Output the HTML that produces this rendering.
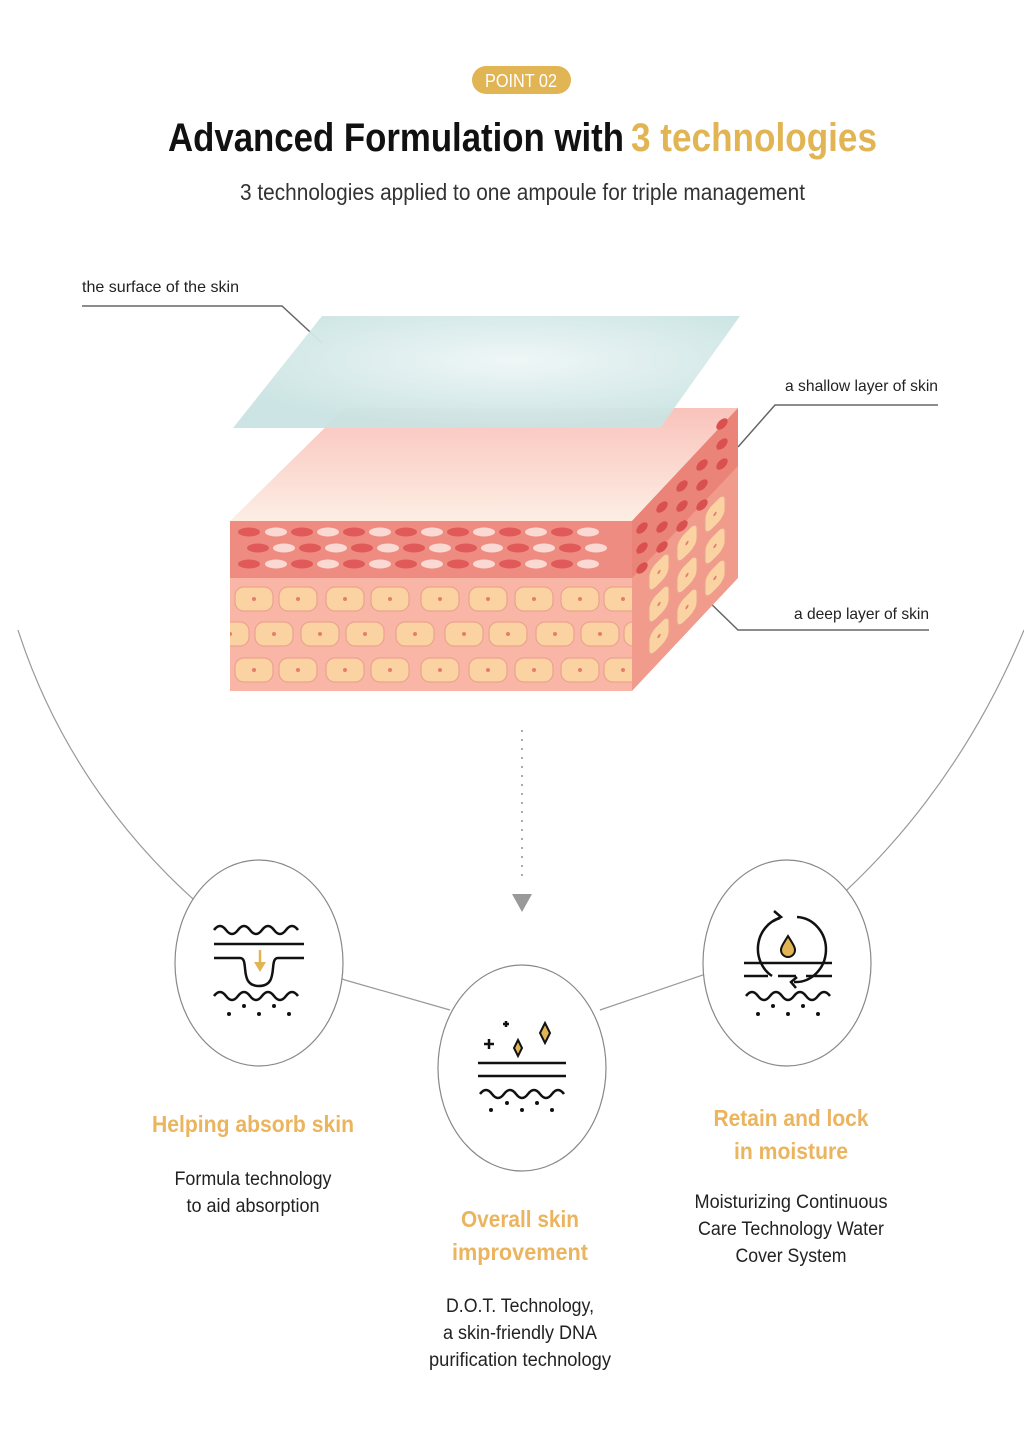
<!DOCTYPE html>
<html><head><meta charset="utf-8"><style>
html,body{margin:0;padding:0;background:#fff}
svg{display:block}
text{font-family:"Liberation Sans",sans-serif}
</style></head><body>
<svg width="1024" height="1451" viewBox="0 0 1024 1451" xmlns="http://www.w3.org/2000/svg">
<defs>
<linearGradient id="top" x1="0" y1="0" x2="0" y2="1"><stop offset="0" stop-color="#f9c3bb"/><stop offset="1" stop-color="#fdeee4"/></linearGradient>
<radialGradient id="mem" cx="0.55" cy="0.4" r="0.6"><stop offset="0" stop-color="#eef6f6"/><stop offset="1" stop-color="#c9e3e2"/></radialGradient>
<g id="cell"><rect x="-19" y="-12" width="38" height="24" rx="9" fill="#fbd3a3" stroke="#eaa48d" stroke-width="1.2"/><circle r="2" fill="#e47d6e"/></g>
<g id="scell"><rect x="-10" y="-12" width="20" height="24" rx="7" fill="#fbd3a3" stroke="#eaa48d" stroke-width="1"/><circle r="1.6" fill="#e47d6e"/></g>
<clipPath id="front"><rect x="230" y="521" width="402" height="170"/></clipPath>
</defs>

<rect x="472" y="66" width="99" height="28" rx="14" fill="#e1b454"/>
<text x="521" y="87" font-size="18" fill="#fff" text-anchor="middle" textLength="72" lengthAdjust="spacingAndGlyphs">POINT 02</text>
<text x="168" y="151" font-size="40" font-weight="bold" fill="#111" textLength="456" lengthAdjust="spacingAndGlyphs">Advanced Formulation with</text>
<text x="631" y="151" font-size="40" font-weight="bold" fill="#e1b454" textLength="246" lengthAdjust="spacingAndGlyphs">3 technologies</text>
<text x="240" y="200" font-size="23" fill="#333" textLength="565" lengthAdjust="spacingAndGlyphs">3 technologies applied to one ampoule for triple management</text>

<text x="82" y="292" font-size="16" fill="#222" textLength="157" lengthAdjust="spacingAndGlyphs">the surface of the skin</text>
<polyline points="82,306 282,306 322,343" fill="none" stroke="#666" stroke-width="1.5"/>
<text x="785" y="391" font-size="16" fill="#222" textLength="153" lengthAdjust="spacingAndGlyphs">a shallow layer of skin</text>
<polyline points="938,405 775,405 738,447" fill="none" stroke="#666" stroke-width="1.5"/>
<text x="794" y="619" font-size="16" fill="#222" textLength="135" lengthAdjust="spacingAndGlyphs">a deep layer of skin</text>
<polyline points="929,630 738,630 703,596" fill="none" stroke="#666" stroke-width="1.5"/>

<polygon points="230,521 345,408 738,408 632,521" fill="url(#top)"/>
<rect x="230" y="521" width="402" height="57" fill="#ee8c82"/>
<rect x="230" y="578" width="402" height="113" fill="#f9b5a5"/>
<polygon points="632,521 738,408 738,578 632,691" fill="#f09b8c"/>
<polygon points="632,521 738,408 738,466 632,578" fill="#ea8479"/>
<g fill="#e05a5a">
<ellipse cx="249" cy="532" rx="11" ry="4.5"/><ellipse cx="302" cy="532" rx="11" ry="4.5"/><ellipse cx="354" cy="532" rx="11" ry="4.5"/><ellipse cx="406" cy="532" rx="11" ry="4.5"/><ellipse cx="458" cy="532" rx="11" ry="4.5"/><ellipse cx="510" cy="532" rx="11" ry="4.5"/><ellipse cx="562" cy="532" rx="11" ry="4.5"/>
<ellipse cx="258" cy="548" rx="11" ry="4.5"/><ellipse cx="310" cy="548" rx="11" ry="4.5"/><ellipse cx="362" cy="548" rx="11" ry="4.5"/><ellipse cx="414" cy="548" rx="11" ry="4.5"/><ellipse cx="466" cy="548" rx="11" ry="4.5"/><ellipse cx="518" cy="548" rx="11" ry="4.5"/><ellipse cx="570" cy="548" rx="11" ry="4.5"/>
<ellipse cx="249" cy="564" rx="11" ry="4.5"/><ellipse cx="302" cy="564" rx="11" ry="4.5"/><ellipse cx="354" cy="564" rx="11" ry="4.5"/><ellipse cx="406" cy="564" rx="11" ry="4.5"/><ellipse cx="458" cy="564" rx="11" ry="4.5"/><ellipse cx="510" cy="564" rx="11" ry="4.5"/><ellipse cx="562" cy="564" rx="11" ry="4.5"/>
</g>
<g fill="#fbd9d3">
<ellipse cx="276" cy="532" rx="11" ry="4.5"/><ellipse cx="328" cy="532" rx="11" ry="4.5"/><ellipse cx="380" cy="532" rx="11" ry="4.5"/><ellipse cx="432" cy="532" rx="11" ry="4.5"/><ellipse cx="484" cy="532" rx="11" ry="4.5"/><ellipse cx="536" cy="532" rx="11" ry="4.5"/><ellipse cx="588" cy="532" rx="11" ry="4.5"/>
<ellipse cx="284" cy="548" rx="11" ry="4.5"/><ellipse cx="336" cy="548" rx="11" ry="4.5"/><ellipse cx="388" cy="548" rx="11" ry="4.5"/><ellipse cx="440" cy="548" rx="11" ry="4.5"/><ellipse cx="492" cy="548" rx="11" ry="4.5"/><ellipse cx="544" cy="548" rx="11" ry="4.5"/><ellipse cx="596" cy="548" rx="11" ry="4.5"/>
<ellipse cx="276" cy="564" rx="11" ry="4.5"/><ellipse cx="328" cy="564" rx="11" ry="4.5"/><ellipse cx="380" cy="564" rx="11" ry="4.5"/><ellipse cx="432" cy="564" rx="11" ry="4.5"/><ellipse cx="484" cy="564" rx="11" ry="4.5"/><ellipse cx="536" cy="564" rx="11" ry="4.5"/><ellipse cx="588" cy="564" rx="11" ry="4.5"/>
</g>
<g fill="#d9504f">
<ellipse cx="642" cy="528" rx="7" ry="4" transform="rotate(-45 642 528)"/><ellipse cx="662" cy="507" rx="7" ry="4" transform="rotate(-45 662 507)"/><ellipse cx="682" cy="486" rx="7" ry="4" transform="rotate(-45 682 486)"/><ellipse cx="702" cy="465" rx="7" ry="4" transform="rotate(-45 702 465)"/><ellipse cx="722" cy="444" rx="7" ry="4" transform="rotate(-45 722 444)"/>
<ellipse cx="642" cy="548" rx="7" ry="4" transform="rotate(-45 642 548)"/><ellipse cx="662" cy="527" rx="7" ry="4" transform="rotate(-45 662 527)"/><ellipse cx="682" cy="506" rx="7" ry="4" transform="rotate(-45 682 506)"/><ellipse cx="702" cy="485" rx="7" ry="4" transform="rotate(-45 702 485)"/><ellipse cx="722" cy="464" rx="7" ry="4" transform="rotate(-45 722 464)"/>
<ellipse cx="642" cy="568" rx="7" ry="4" transform="rotate(-45 642 568)"/><ellipse cx="662" cy="547" rx="7" ry="4" transform="rotate(-45 662 547)"/><ellipse cx="682" cy="526" rx="7" ry="4" transform="rotate(-45 682 526)"/><ellipse cx="702" cy="505" rx="7" ry="4" transform="rotate(-45 702 505)"/><ellipse cx="722" cy="424" rx="7" ry="4" transform="rotate(-45 722 424)"/>
</g>
<g clip-path="url(#front)">
<use href="#cell" x="254" y="599"/><use href="#cell" x="298" y="599"/><use href="#cell" x="345" y="599"/><use href="#cell" x="390" y="599"/><use href="#cell" x="440" y="599"/><use href="#cell" x="488" y="599"/><use href="#cell" x="534" y="599"/><use href="#cell" x="580" y="599"/><use href="#cell" x="623" y="599"/>
<use href="#cell" x="230" y="634"/><use href="#cell" x="274" y="634"/><use href="#cell" x="320" y="634"/><use href="#cell" x="365" y="634"/><use href="#cell" x="415" y="634"/><use href="#cell" x="464" y="634"/><use href="#cell" x="508" y="634"/><use href="#cell" x="555" y="634"/><use href="#cell" x="600" y="634"/><use href="#cell" x="643" y="634"/>
<use href="#cell" x="254" y="670"/><use href="#cell" x="298" y="670"/><use href="#cell" x="345" y="670"/><use href="#cell" x="390" y="670"/><use href="#cell" x="440" y="670"/><use href="#cell" x="488" y="670"/><use href="#cell" x="534" y="670"/><use href="#cell" x="580" y="670"/><use href="#cell" x="623" y="670"/>
</g>
<use href="#scell" transform="translate(659 572) skewY(-45)"/>
<use href="#scell" transform="translate(687 543) skewY(-45)"/>
<use href="#scell" transform="translate(715 514) skewY(-45)"/>
<use href="#scell" transform="translate(659 604) skewY(-45)"/>
<use href="#scell" transform="translate(687 575) skewY(-45)"/>
<use href="#scell" transform="translate(715 546) skewY(-45)"/>
<use href="#scell" transform="translate(659 636) skewY(-45)"/>
<use href="#scell" transform="translate(687 607) skewY(-45)"/>
<use href="#scell" transform="translate(715 578) skewY(-45)"/>
<polygon points="233,428 322,316 740,316 660,428" fill="url(#mem)" opacity="0.95"/>

<line x1="522" y1="730" x2="522" y2="880" stroke="#aaa" stroke-width="2" stroke-dasharray="2 7"/>
<polygon points="512,894 532,894 522,912" fill="#999"/>

<path d="M18,630 C60,760 140,860 230,930 L345,980 L450,1010 M600,1010 L703,975 L800,930 C890,860 970,760 1024,630" fill="none" stroke="#999" stroke-width="1.2"/>

<ellipse cx="259" cy="963" rx="84" ry="103" fill="#fff" stroke="#888" stroke-width="1.2"/>
<ellipse cx="522" cy="1068" rx="84" ry="103" fill="#fff" stroke="#888" stroke-width="1.2"/>
<ellipse cx="787" cy="963" rx="84" ry="103" fill="#fff" stroke="#888" stroke-width="1.2"/>

<g fill="none" stroke="#111" stroke-width="2.5">
<path d="M214,930 q6,-8 12,0 t12,0 t12,0 t12,0 t12,0 t12,0 t12,0"/>
<path d="M214,944 H304"/>
<path d="M214,958 H240 M278,958 H304"/>
<path d="M240,958 C250,958 238,986 259,986 C280,986 268,958 278,958"/>
<path d="M214,996 q6,-8 12,0 t12,0 t12,0 t12,0 t12,0 t12,0 t12,0"/>
</g>
<path d="M260,950 v16" stroke="#e1b454" stroke-width="2.5"/><polygon points="254,962 266,962 260,972" fill="#e1b454"/>
<g fill="#111"><circle cx="229" cy="1014" r="2"/><circle cx="244" cy="1006" r="2"/><circle cx="259" cy="1014" r="2"/><circle cx="274" cy="1006" r="2"/><circle cx="289" cy="1014" r="2"/></g>

<g stroke="#111" stroke-width="2.5" fill="none">
<path d="M478,1063 H566 M478,1076 H566"/>
<path d="M480,1094 q6,-8 12,0 t12,0 t12,0 t12,0 t12,0 t12,0 t12,0"/>
<path d="M484,1044 h10 M489,1039 v10 M503,1024 h6 M506,1021 v6"/>
</g>
<path d="M545,1023 l5,10 l-5,10 l-5,-10 z M518,1040 l4,8 l-4,8 l-4,-8z" fill="#e1b454" stroke="#111" stroke-width="2"/>
<g fill="#111"><circle cx="491" cy="1110" r="2"/><circle cx="507" cy="1103" r="2"/><circle cx="522" cy="1110" r="2"/><circle cx="537" cy="1103" r="2"/><circle cx="552" cy="1110" r="2"/></g>

<g stroke="#111" stroke-width="2.5" fill="none">
<path d="M780,918 A30,32 0 0 0 772,976"/>
<path d="M797,917 A30,32 0 0 1 794,982"/>
<path d="M774,911 l7,6 l-8,4 M797,977 l-6,5 l5,6"/>
<path d="M744,963 H832 M744,976 H768 M778,976 H796 M806,976 H832"/>
<path d="M746,996 q6,-8 12,0 t12,0 t12,0 t12,0 t12,0 t12,0 t12,0"/>
</g>
<path d="M788,936 c-5,8 -7,11 -7,14 a7,7 0 0 0 14,0 c0,-3 -2,-6 -7,-14z" fill="#e1b454" stroke="#111" stroke-width="2"/>
<g fill="#111"><circle cx="758" cy="1014" r="2"/><circle cx="773" cy="1006" r="2"/><circle cx="788" cy="1014" r="2"/><circle cx="803" cy="1006" r="2"/><circle cx="818" cy="1014" r="2"/></g>

<g font-weight="bold" fill="#ebb45f" text-anchor="middle" font-size="23">
<text x="253" y="1132" textLength="202" lengthAdjust="spacingAndGlyphs">Helping absorb skin</text>
<text x="791" y="1126" textLength="155" lengthAdjust="spacingAndGlyphs">Retain and lock</text>
<text x="791" y="1159" textLength="114" lengthAdjust="spacingAndGlyphs">in moisture</text>
<text x="520" y="1227" textLength="118" lengthAdjust="spacingAndGlyphs">Overall skin</text>
<text x="520" y="1260" textLength="136" lengthAdjust="spacingAndGlyphs">improvement</text>
</g>
<g fill="#222" text-anchor="middle" font-size="19">
<text x="253" y="1185" textLength="157" lengthAdjust="spacingAndGlyphs">Formula technology</text>
<text x="253" y="1212" textLength="133" lengthAdjust="spacingAndGlyphs">to aid absorption</text>
<text x="791" y="1208" textLength="193" lengthAdjust="spacingAndGlyphs">Moisturizing Continuous</text>
<text x="791" y="1235" textLength="186" lengthAdjust="spacingAndGlyphs">Care Technology Water</text>
<text x="791" y="1262" textLength="111" lengthAdjust="spacingAndGlyphs">Cover System</text>
<text x="520" y="1312" textLength="148" lengthAdjust="spacingAndGlyphs">D.O.T. Technology,</text>
<text x="520" y="1339" textLength="154" lengthAdjust="spacingAndGlyphs">a skin-friendly DNA</text>
<text x="520" y="1366" textLength="182" lengthAdjust="spacingAndGlyphs">purification technology</text>
</g>
</svg>
</body></html>
